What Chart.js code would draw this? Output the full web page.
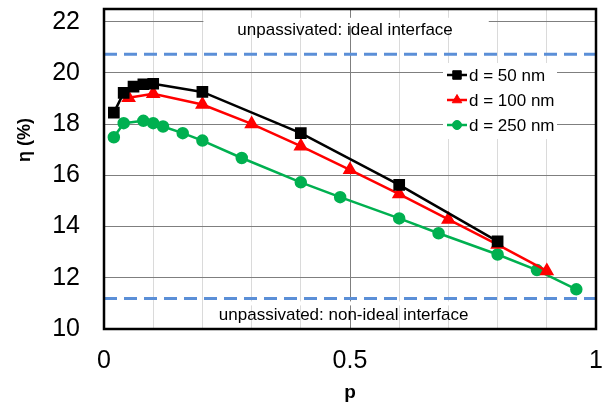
<!DOCTYPE html>
<html>
<head>
<meta charset="utf-8">
<script src="https://cdn.jsdelivr.net/npm/chart.js@4"></script>
<style>
  html, body { margin: 0; padding: 0; background: #fff; }
</style>
</head>
<body>
<canvas id="chart" width="605" height="407"></canvas>
<script>
// values
const p50 = [0.02, 0.04, 0.06, 0.08, 0.1, 0.2, 0.4, 0.6, 0.8];
const eta50 = [18.45, 19.22, 19.47, 19.56, 19.58, 19.26, 17.65, 15.63, 13.42];
const p100 = [0.05, 0.1, 0.2, 0.3, 0.4, 0.5, 0.6, 0.7, 0.8, 0.9];
const eta100 = [19.03, 19.19, 18.77, 18.01, 17.14, 16.22, 15.27, 14.28, 13.3, 12.27];
const p250 = [0.02, 0.04, 0.08, 0.1, 0.12, 0.16, 0.2, 0.28, 0.4, 0.48, 0.6, 0.68, 0.8, 0.88, 0.96];
const eta250 = [17.49, 18.04, 18.13, 18.04, 17.91, 17.65, 17.36, 16.68, 15.73, 15.15, 14.32, 13.74, 12.91, 12.3, 11.55];
const seriesLabels = ['d = 50 nm', 'd = 100 nm', 'd = 250 nm'];
const idealLimit = 20.73;
const nonIdealLimit = 11.19;
const idealCaption = 'unpassivated: ideal interface';
const nonIdealCaption = 'unpassivated: non-ideal interface';
const xTickLabels = [0, 0.5, 1];
const yTickLabels = [10, 12, 14, 16, 18, 20, 22];

const FONT = "'Liberation Sans', Arial, sans-serif";
const limitBlue = '#5b8fd7';

const pts = (xs, ys) => xs.map((v, i) => ({ x: v, y: ys[i] }));
const near = (a, b) => Math.abs(a - b) < 1e-6;

// grid masks, captions, legend, frame and the y title
const decor = {
  id: 'decor',
  beforeDatasetsDraw(chart) {
    const { ctx, chartArea: a, scales: { x, y } } = chart;
    ctx.save();
    ctx.fillStyle = '#fff';
    // captions hide the gridline they sit on
    ctx.fillRect(x.getPixelForValue(0.2) + 1, y.getPixelForValue(22) - 4, x.getPixelForValue(0.78) - x.getPixelForValue(0.2), 8);
    ctx.fillRect(x.getPixelForValue(0.2) + 1, y.getPixelForValue(11) - 2, x.getPixelForValue(0.8) - x.getPixelForValue(0.2) - 2, 4);
    // legend box
    ctx.fillRect(a.right - 153, a.top + 54, 114, 76);

    ctx.fillStyle = '#000';
    ctx.font = '17px ' + FONT;
    ctx.textAlign = 'center';
    ctx.textBaseline = 'middle';
    ctx.fillText(idealCaption, x.getPixelForValue(0.49), y.getPixelForValue(21.66));
    ctx.fillText(nonIdealCaption, x.getPixelForValue(0.487), y.getPixelForValue(10.54));

    // legend rows
    ctx.textAlign = 'left';
    chart.data.datasets.slice(0, 3).forEach((ds, i) => {
      const ly = a.top + 66 + i * 25;
      const lx = a.right - 149;
      ctx.strokeStyle = ds.borderColor;
      ctx.lineWidth = 2.5;
      ctx.beginPath();
      ctx.moveTo(lx, ly);
      ctx.lineTo(lx + 20, ly);
      ctx.stroke();
      ctx.fillStyle = ds.backgroundColor;
      ctx.lineWidth = 1;
      Chart.helpers.drawPoint(ctx, { pointStyle: ds.pointStyle, radius: ds.pointRadius - 0.5, borderWidth: 1 }, lx + 10, ly);
      ctx.fillStyle = '#000';
      ctx.fillText(ds.label, lx + 22, ly + 1);
    });
    ctx.restore();
  },
  afterDatasetsDraw(chart) {
    const { ctx, chartArea: a } = chart;
    ctx.save();
    ctx.strokeStyle = '#000';
    ctx.lineWidth = 2.5;
    ctx.strokeRect(a.left, a.top, a.right - a.left, a.bottom - a.top);
    ctx.translate(25, 140);
    ctx.rotate(-Math.PI / 2);
    ctx.fillStyle = '#000';
    ctx.font = 'bold 18px ' + FONT;
    ctx.textAlign = 'center';
    ctx.textBaseline = 'middle';
    ctx.fillText('η (%)', 0, 0);
    ctx.restore();
  }
};

new Chart(document.getElementById('chart'), {
  type: 'line',
  data: {
    datasets: [
      {
        label: seriesLabels[0], data: pts(p50, eta50),
        borderColor: '#000000', backgroundColor: '#000000',
        pointStyle: 'rect', pointRadius: 6.5, borderWidth: 2.5
      },
      {
        label: seriesLabels[1], data: pts(p100, eta100),
        borderColor: '#ff0000', backgroundColor: '#ff0000',
        pointStyle: 'triangle', pointRadius: 6, borderWidth: 2.5
      },
      {
        label: seriesLabels[2], data: pts(p250, eta250),
        borderColor: '#00b050', backgroundColor: '#00b050',
        pointStyle: 'circle', pointRadius: 5, borderWidth: 2.5
      },
      {
        label: 'ideal', data: [{ x: 0, y: idealLimit }, { x: 1, y: idealLimit }],
        borderColor: limitBlue, borderDash: [13, 7], borderWidth: 3, pointRadius: 0
      },
      {
        label: 'non-ideal', data: [{ x: 0, y: nonIdealLimit }, { x: 1, y: nonIdealLimit }],
        borderColor: limitBlue, borderDash: [13, 7], borderWidth: 3, pointRadius: 0
      }
    ]
  },
  options: {
    responsive: false,
    devicePixelRatio: 1,
    animation: false,
    layout: { padding: { top: 4, right: 8, bottom: 0, left: 0 } },
    plugins: { legend: { display: false }, tooltip: { enabled: false } },
    scales: {
      x: {
        type: 'linear', min: 0, max: 1,
        border: { display: false },
        grid: {
          drawTicks: false,
          color: c => near(c.tick.value, 0.5) ? '#7f7f7f' : '#dadada'
        },
        ticks: {
          stepSize: 0.1, autoSkip: false, maxRotation: 0, padding: 17,
          color: '#000', font: { size: 25, family: FONT },
          callback: v => xTickLabels.some(t => near(t, v)) ? String(+v.toFixed(1)) : ''
        },
        title: {
          display: true, text: 'p', color: '#000',
          font: { size: 19, weight: 'bold', family: FONT },
          padding: { top: 0, bottom: 3 }
        },
        afterFit: s => {
          s.height = 78;
          s.paddingLeft = 0;
          s.paddingRight = 0;
        }
      },
      y: {
        min: 10, max: 22.5,
        border: { display: false },
        grid: {
          drawTicks: false,
          color: c => c.tick.value % 2 === 0 ? '#7f7f7f' : '#dadada'
        },
        ticks: {
          stepSize: 1, includeBounds: false, padding: 24,
          color: '#000', font: { size: 25, family: FONT },
          callback: v => yTickLabels.includes(v) ? String(v) : ''
        },
        afterFit: s => {
          s.width = 104;
          s.paddingTop = 0;
          s.paddingBottom = 0;
        }
      }
    }
  },
  plugins: [decor]
});
</script>
</body>
</html>
